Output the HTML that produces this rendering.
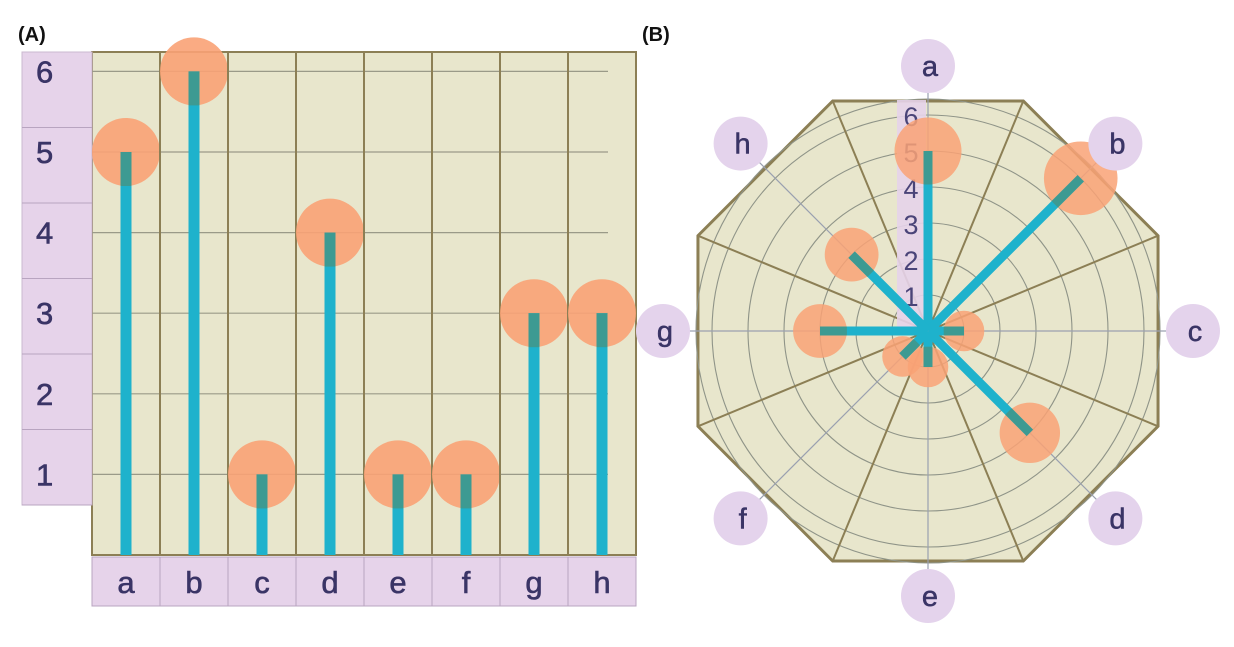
<!DOCTYPE html>
<html><head><meta charset="utf-8"><style>
body{margin:0;background:#fff;width:1234px;height:647px;overflow:hidden}
svg{display:block;font-family:"Liberation Sans","DejaVu Sans",sans-serif}
</style></head><body>
<svg id="s" width="1234" height="647" viewBox="0 0 1234 647">
<text x="18" y="41" font-size="20" font-weight="bold" fill="#111">(A)</text>
<text x="642" y="41" font-size="20" font-weight="bold" fill="#111">(B)</text>
<g id="A"></g>
<g id="B"></g>
</svg>
<script>
const categories=['a','b','c','d','e','f','g','h'];
const values=[5,6,1,4,1,1,3,3];
const yTicks=[1,2,3,4,5,6];
const NS='http://www.w3.org/2000/svg';
function mk(p,t,a){const e=document.createElementNS(NS,t);for(const k in a)e.setAttribute(k,a[k]);p.appendChild(e);return e;}
const BG='#e8e6cc',PINK='#e6d3ea',BROWN='#8c7f55',TEAL='#1eb2cc',DARK='#3d9a92',OR='#f9a276',TXT='#3a3466';
// Panel A
const gA=document.getElementById('A');
const x0=92,x1=636,y0=555,yTop=52,unit=80.6,cw=(x1-x0)/categories.length;
const ys=v=>y0-v*unit;
mk(gA,'rect',{x:x0,y:yTop,width:x1-x0,height:y0-yTop,fill:BG,stroke:BROWN,'stroke-width':2});
const band=mk(gA,'rect',{x:22,y:52,width:70,height:453,fill:PINK,stroke:'#cbb8d0'});


yTicks.forEach(t=>{
 const l=mk(gA,'line',{x1:x0,x2:608,y1:ys(t),y2:ys(t),stroke:'#9a9a88','stroke-width':1.2});
 
 
 const cy=52+(6-t)*75.5;
 mk(gA,'line',{x1:22,x2:92,y1:cy+75.5,y2:cy+75.5,stroke:'#b8a4c0'});
 const tx=mk(gA,'text',{x:36,y:ys(t)+11,'font-size':31,fill:TXT,stroke:TXT,'stroke-width':0.6});tx.textContent=t;
 
 
});
categories.forEach((c,i)=>{
 const cx=x0+cw*(i+.5);
 if(i>0)mk(gA,'line',{x1:x0+cw*i,x2:x0+cw*i,y1:yTop,y2:y0,stroke:BROWN,'stroke-width':2});
 const cell=mk(gA,'rect',{x:x0+cw*i,y:557,width:cw,height:49,fill:PINK,stroke:'#b8a4c0'});
 
 
 const tx=mk(gA,'text',{x:cx,y:593,'font-size':31,fill:TXT,stroke:TXT,'stroke-width':0.6,'text-anchor':'middle'});tx.textContent=c;
 
 
 const R=34;
 const d=mk(gA,'circle',{cx:cx,cy:ys(values[i]),r:R,fill:OR,'fill-opacity':0.9});
 
 
 const b=mk(gA,'rect',{x:cx-5.5,y:ys(values[i]),width:11,height:values[i]*unit,fill:TEAL});
 
 
 mk(gA,'rect',{x:cx-5.5,y:ys(values[i]),width:11,height:Math.min(R,values[i]*unit),fill:DARK});
});
// Panel B
const gB=document.getElementById('B');
const CX=928,CY=331,RU=36,RV=249;
const pt=(ang,rad)=>[CX+rad*Math.sin(ang),CY-rad*Math.cos(ang)];
const n=categories.length;
const poly=[];for(let k=0;k<n;k++){poly.push(pt((k+.5)*2*Math.PI/n,RV).join(','));}
const pg=mk(gB,'polygon',{points:poly.join(' '),fill:BG,stroke:BROWN,'stroke-width':3});


for(let t=1;t<=6;t++)mk(gB,'circle',{cx:CX,cy:CY,r:t*RU,fill:'none',stroke:'#8f9488','stroke-width':1.1});
mk(gB,'circle',{cx:CX,cy:CY,r:6.5*RU-2,fill:'none',stroke:'#8f9488','stroke-width':1.1});
for(let k=0;k<n;k++){const p=pt((k+.5)*2*Math.PI/n,RV);mk(gB,'line',{x1:CX,y1:CY,x2:p[0],y2:p[1],stroke:BROWN,'stroke-width':2});}
const sc=mk(gB,'rect',{x:897,y:100,width:29,height:CY-100,fill:PINK,'fill-opacity':0.9});


yTicks.forEach(t=>{const tx=mk(gB,'text',{x:911,y:CY-t*RU+11,'font-size':27,fill:'#4a4478','text-anchor':'middle'});tx.textContent=t;
 
 });
categories.forEach((c,i)=>{
 const ang=i*2*Math.PI/n;
 const len=values[i]*RU;
 const p=pt(ang,len),lp=pt(ang,265);
 mk(gB,'line',{x1:CX,y1:CY,x2:lp[0],y2:lp[1],stroke:'#9aa0b0','stroke-width':1.2});
 const R=17+3.3*values[i];
 const d=mk(gB,'circle',{cx:p[0],cy:p[1],r:R,fill:OR,'fill-opacity':0.85});
 
 
 const sp=mk(gB,'line',{x1:CX,y1:CY,x2:p[0],y2:p[1],stroke:TEAL,'stroke-width':9});
 
 
 const q=pt(ang,Math.max(len-R,len*0.35));
 mk(gB,'line',{x1:q[0],y1:q[1],x2:p[0],y2:p[1],stroke:DARK,'stroke-width':9});
 const lc=mk(gB,'circle',{cx:lp[0],cy:lp[1],r:27,fill:'#e4d3ec'});
 
 
 const tx=mk(gB,'text',{x:lp[0]+2,y:lp[1]+10,'font-size':29,fill:TXT,stroke:TXT,'stroke-width':0.5,'text-anchor':'middle'});tx.textContent=c;
 
 
});
</script>
</body></html>
